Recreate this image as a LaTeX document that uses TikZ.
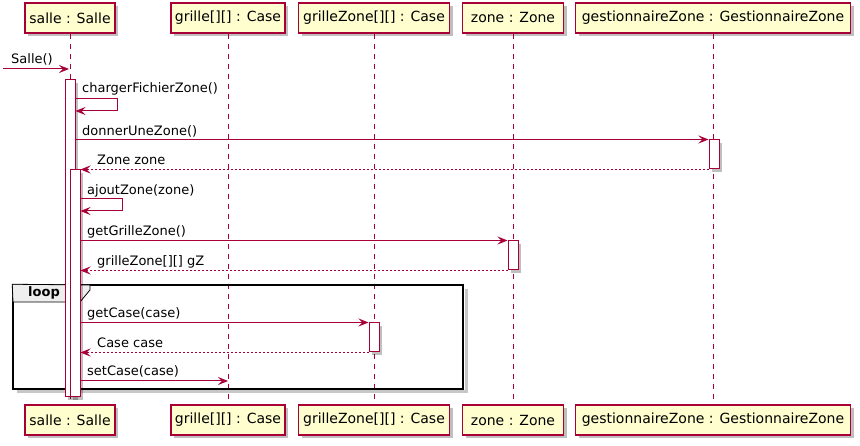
\documentclass[tikz,border=0pt]{standalone}
\usepackage{fontspec}
\setmainfont{DejaVu Sans}
\usetikzlibrary{arrows.meta,shadows}

\definecolor{umlred}{RGB}{168,0,54}
\definecolor{umlbox}{RGB}{254,254,206}
\definecolor{umltab}{RGB}{238,238,238}

\tikzset{
  shadowbox/.style={drop shadow={shadow xshift=3pt,shadow yshift=-3pt,fill=black,opacity=0.25}},
  part/.style={draw=umlred,fill=umlbox,line width=1.2pt,minimum height=30pt,inner xsep=3pt,font=\fontsize{14}{16}\selectfont,shadowbox},
  life/.style={umlred,line width=0.9pt,dash pattern=on 5pt off 5pt},
  actbar/.style={draw=umlred,fill=white,line width=1pt,minimum width=10pt,inner sep=0pt,shadowbox},
  msg/.style={umlred,line width=1pt,-{Stealth[length=10pt,width=8pt,inset=4pt]}},
  ret/.style={msg,dash pattern=on 2pt off 2pt},
  lbl/.style={anchor=base west,inner sep=0pt,font=\fontsize{13}{15}\selectfont},
}

\begin{document}
\begin{tikzpicture}[x=1pt,y=1pt,yscale=-1,xscale=1]
\useasboundingbox (0,0) rectangle (860,446);

% Participants
\node[part,minimum width=90pt] (salleT) at (70,18) {salle : Salle};
\node[part,minimum width=114pt] (grilleT) at (228,18) {grille[][] : Case};
\node[part,minimum width=151pt] (grilleZoneT) at (374,18) {grilleZone[][] : Case};
\node[part,minimum width=101pt] (zoneT) at (513,18) {zone : Zone};
\node[part,minimum width=275pt] (gestT) at (713,18) {gestionnaireZone : GestionnaireZone};
\node[part,minimum width=90pt] (salleB) at (70,420) {salle : Salle};
\node[part,minimum width=114pt] (grilleB) at (228,420) {grille[][] : Case};
\node[part,minimum width=151pt] (grilleZoneB) at (374,420) {grilleZone[][] : Case};
\node[part,minimum width=101pt] (zoneB) at (513,420) {zone : Zone};
\node[part,minimum width=275pt] (gestB) at (713,420) {gestionnaireZone : GestionnaireZone};

%Lifelines
\draw[life] (salleT) -- (salleB);
\draw[life] (grilleT) -- (grilleB);
\draw[life] (grilleZoneT) -- (grilleZoneB);
\draw[life] (zoneT) -- (zoneB);
\draw[life] (gestT) -- (gestB);

%Loop frame
\draw[black!22,line width=3pt] (466,289) -- (466,392) -- (17,392);
\node[draw=black,line width=1.5pt,minimum width=450pt,minimum height=104pt,inner sep=0pt] (loopFrame) at (238,337) {};
\draw[fill=umltab,line width=0.8pt] (loopFrame.north west) -- (90,285) -- (90,290) -- (80,302) -- (13,302) -- cycle;
% Text Node
\node[lbl,font=\fontsize{13}{15}\selectfont\bfseries] (loopLbl) at (28,297) {loop};

%Activations
\node[actbar,minimum height=317pt] (salleAct) at (70,238.5) {};
\node[actbar,minimum height=227pt] (salleAct2) at (75,283.5) {};
\node[actbar,minimum height=29pt] (gestAct) at (714,154.5) {};
\node[actbar,minimum height=29pt] (zoneAct) at (513,255.5) {};
\node[actbar,minimum height=29pt] (grilleZoneAct) at (374,337.5) {};

%Messages
\coordinate (salleIn) at (3,69);
\draw[msg] (salleIn) -- ([xshift=-1pt]salleIn -| salleT);
\draw[msg] (salleAct.east |- 0,98.5) -- (117,98.5) |- (salleAct.east |- 0,111);
\draw[msg] (salleAct.east |- gestAct.north) -- (gestAct.north west);
\draw[ret] (gestAct.south west) -- (gestAct.south west -| salleAct2.east);
\draw[msg] (salleAct2.east |- 0,199) -- (122,199) |- (salleAct2.east |- 0,211);
\draw[msg] (salleAct2.east |- zoneAct.north) -- (zoneAct.north west);
\draw[ret] (zoneAct.south west) -- (zoneAct.south west -| salleAct2.east);
\draw[msg] (salleAct2.east |- grilleZoneAct.north) -- (grilleZoneAct.north west);
\draw[ret] (grilleZoneAct.south west) -- (grilleZoneAct.south west -| salleAct2.east);
\draw[msg] (salleAct2.east |- 0,381) -- (grilleT |- 0,381);

% Text Node
\node[lbl] (salleMsg) at (11,64) {Salle()};
\node[lbl] (chargerMsg) at (82,93) {chargerFichierZone()};
\node[lbl] (donnerMsg) at (82,136) {donnerUneZone()};
\node[lbl] (zoneRet) at (97,165) {Zone zone};
\node[lbl] (ajoutMsg) at (87,194.5) {ajoutZone(zone)};
\node[lbl] (getGrilleMsg) at (87,236) {getGrilleZone()};
\node[lbl] (gZRet) at (97,265.5) {grilleZone[][] gZ};
\node[lbl] (getCaseMsg) at (87,318) {getCase(case)};
\node[lbl] (caseRet) at (97,347.5) {Case case};
\node[lbl] (setCaseMsg) at (87,376) {setCase(case)};

\end{tikzpicture}
\end{document}
